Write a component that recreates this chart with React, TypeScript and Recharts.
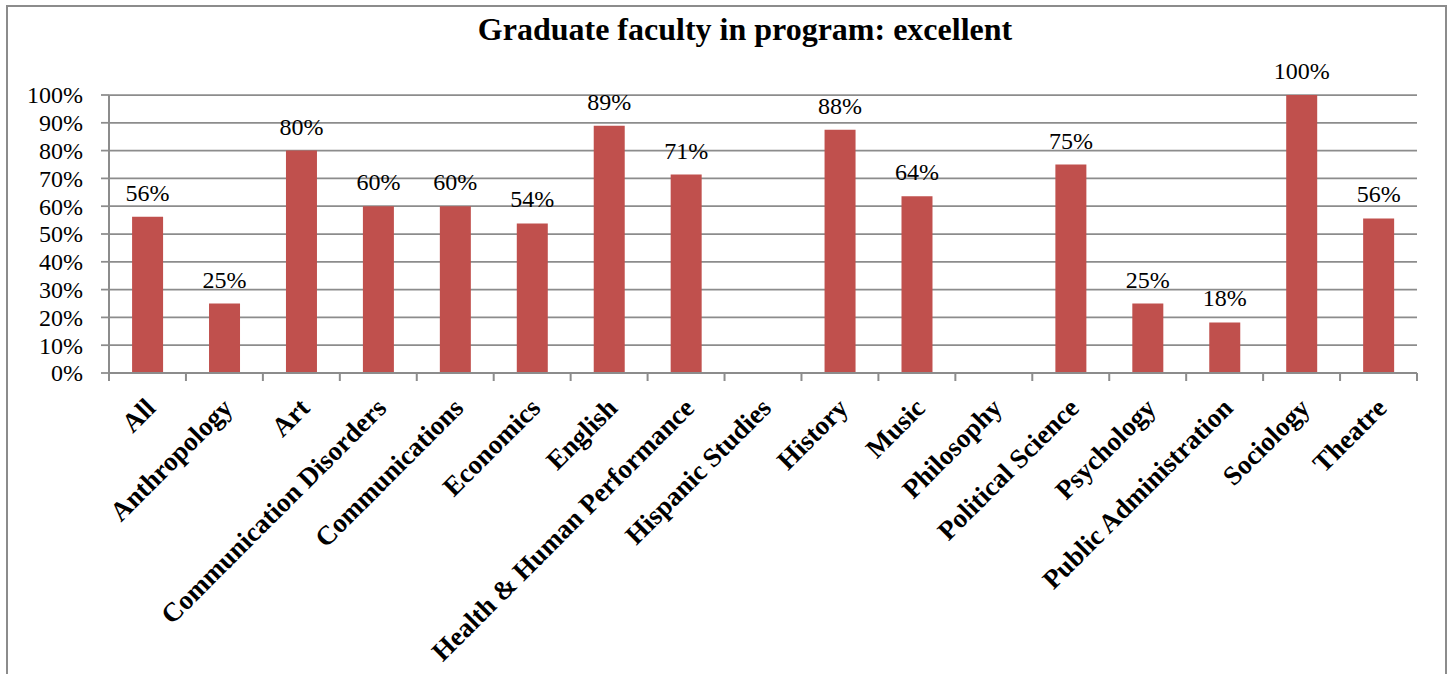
import { BarChart, Bar, XAxis, YAxis, CartesianGrid, LabelList } from 'recharts';

const programs = [
  'All',
  'Anthropology',
  'Art',
  'Communication Disorders',
  'Communications',
  'Economics',
  'English',
  'Health & Human Performance',
  'Hispanic Studies',
  'History',
  'Music',
  'Philosophy',
  'Political Science',
  'Psychology',
  'Public Administration',
  'Sociology',
  'Theatre',
];

// share rating faculty "excellent"; null = no responses
const excellent = [0.5625, 0.25, 0.8, 0.6, 0.6, 0.538, 0.889, 0.714, null, 0.875, 0.636, null, 0.75, 0.25, 0.182, 1, 0.556];

const yTicks = [0, 0.1, 0.2, 0.3, 0.4, 0.5, 0.6, 0.7, 0.8, 0.9, 1];

const data = programs.map((name, i) => ({ name, value: excellent[i] }));

const GRAY = '#8c8c8c';
const FONT = '"Liberation Serif", "Times New Roman", serif';

const pct = (v: any) => (v == null ? '' : `${Math.round(Number(v) * 100)}%`);

function ProgramTick(props: any) {
  const { x, y, payload, index, visibleTicksCount } = props;
  const half = payload?.offset ?? 38.47;
  const ax = x + 3;
  const ay = y + 30;
  return (
    <g>
      <line x1={x - half} y1={y} x2={x - half} y2={y + 8} stroke={GRAY} strokeWidth={2} />
      {index === visibleTicksCount - 1 && (
        <line x1={x + half} y1={y} x2={x + half} y2={y + 8} stroke={GRAY} strokeWidth={2} />
      )}
      <text
        x={ax}
        y={ay}
        dy="0.35em"
        textAnchor="end"
        transform={`rotate(-45, ${ax}, ${ay})`}
        style={{ fontFamily: FONT, fontWeight: 'bold', fontSize: 27 }}
        fill="#000"
      >
        {payload.value}
      </text>
    </g>
  );
}

function PercentTick(props: any) {
  const { x, y, payload } = props;
  return (
    <text x={x} y={y} dy="0.35em" textAnchor="end" fill="#000" style={{ fontFamily: FONT, fontSize: 24 }}>
      {pct(payload.value)}
    </text>
  );
}

function BarValue(props: any) {
  const { x, y, width, value } = props;
  if (value == null) return null;
  return (
    <text
      x={x + width / 2}
      y={y - 16}
      textAnchor="middle"
      fill="#000"
      style={{ fontFamily: FONT, fontSize: 24 }}
    >
      {pct(value)}
    </text>
  );
}

export default function App() {
  return (
    <div
      style={{
        position: 'absolute',
        left: 0,
        top: 0,
        width: 1448,
        height: 674,
        overflow: 'hidden',
        background: '#fff',
        fontFamily: FONT,
      }}
    >
      <div
        style={{
          position: 'absolute',
          left: 6,
          top: 5,
          width: 1441,
          height: 720,
          border: `2px solid ${GRAY}`,
          boxSizing: 'border-box',
        }}
      />
      <div
        style={{
          position: 'absolute',
          left: 0,
          top: 13,
          width: 1490,
          textAlign: 'center',
          fontWeight: 'bold',
          fontSize: 32,
          lineHeight: '32px',
          color: '#000',
        }}
      >
        Graduate faculty in program: excellent
      </div>
      <div style={{ position: 'absolute', left: 0, top: 0 }}>
        <BarChart
          width={1448}
          height={674}
          data={data}
          margin={{ top: 95, right: 31, bottom: 0, left: 0 }}
          barCategoryGap="30%"
          style={{ fontFamily: FONT }}
        >
          <CartesianGrid vertical={false} stroke={GRAY} strokeWidth={1.75} />
          <XAxis
            dataKey="name"
            interval={0}
            height={301}
            tickSize={0}
            tickMargin={0}
            tickLine={false}
            axisLine={{ stroke: GRAY, strokeWidth: 2 }}
            tick={<ProgramTick />}
          />
          <YAxis
            width={109}
            domain={[0, 1]}
            ticks={yTicks}
            interval={0}
            tickSize={8}
            tickMargin={18}
            tickLine={{ stroke: GRAY, strokeWidth: 1.75 }}
            axisLine={{ stroke: GRAY, strokeWidth: 2 }}
            tick={<PercentTick />}
          />
          <Bar dataKey="value" fill="#c0504d" isAnimationActive={false}>
            <LabelList dataKey="value" content={<BarValue />} />
          </Bar>
        </BarChart>
      </div>
    </div>
  );
}
